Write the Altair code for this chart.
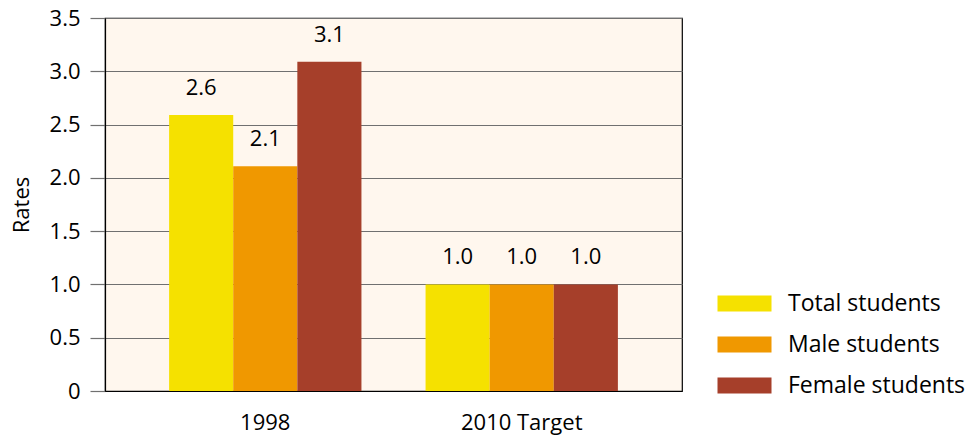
import altair as alt
import pandas as pd

categories = ["1998", "2010 Target"]
series = ["Total students", "Male students", "Female students"]
values_1998 = [2.59, 2.11, 3.09]
values_2010 = [1.0, 1.0, 1.0]
colors = ["#F5E100", "#F09800", "#A63F2A"]
y_ticks = [0, 0.5, 1.0, 1.5, 2.0, 2.5, 3.0, 3.5]

rows = []
for cat, vals in zip(categories, [values_1998, values_2010]):
    for s, v in zip(series, vals):
        rows.append({"category": cat, "series": s, "value": v})
df = pd.DataFrame(rows)

FONT = "Open Sans"
FS = 22

base = alt.Chart(df).encode(
    x=alt.X("category:N", sort=categories,
            scale=alt.Scale(paddingInner=0.25, paddingOuter=0.25),
            axis=alt.Axis(title=None, labelAngle=0, ticks=False, domainColor="black",
                          domainWidth=1.2, labelFontSize=FS, labelFont=FONT,
                          labelColor="black", labelPadding=21, zindex=1)),
    xOffset=alt.XOffset("series:N", sort=series, scale=alt.Scale(paddingInner=0, paddingOuter=0)),
)

bars = base.mark_bar().encode(
    y=alt.Y("value:Q", scale=alt.Scale(domain=[0, 3.5], nice=False),
            axis=alt.Axis(title="Rates", values=y_ticks, grid=True, gridColor="#707070",
                          gridWidth=1.2, tickColor="#707070", tickWidth=1.2, tickSize=15,
                          domainColor="black", domainWidth=1.2,
                          labelExpr="datum.value == 0 ? '0' : format(datum.value, '.1f')",
                          labelFontSize=FS, labelFont=FONT, labelColor="black", labelPadding=10,
                          titleFontSize=FS, titleFont=FONT, titleFontWeight="normal",
                          titleColor="black", titlePadding=16)),
    color=alt.Color("series:N", sort=series,
                    scale=alt.Scale(domain=series, range=colors),
                    legend=alt.Legend(title=None, orient="none", legendX=628, legendY=274,
                                      symbolType="M-3.375,-1L3.375,-1L3.375,1L-3.375,1Z",
                                      symbolSize=256, symbolStrokeWidth=0, symbolOpacity=1,
                                      labelOffset=32, labelFontSize=23, labelFont=FONT,
                                      labelColor="black", rowPadding=17, labelLimit=300)),
)

labels = base.mark_text(baseline="middle", dy=-27, fontSize=FS, font=FONT, color="black").encode(
    y=alt.Y("value:Q"),
    text=alt.Text("value:Q", format=".1f"),
)

chart = (bars + labels).properties(
    width=577, height=373,
    autosize=alt.AutoSizeParams(type="none"),
    padding={"left": 105, "top": 18, "right": 290, "bottom": 50},
    background="white",
).configure_view(fill="#FFF7EE", stroke="black", strokeWidth=1.2)

chart.save("out.html", embed_options={"renderer": "svg", "actions": False})
